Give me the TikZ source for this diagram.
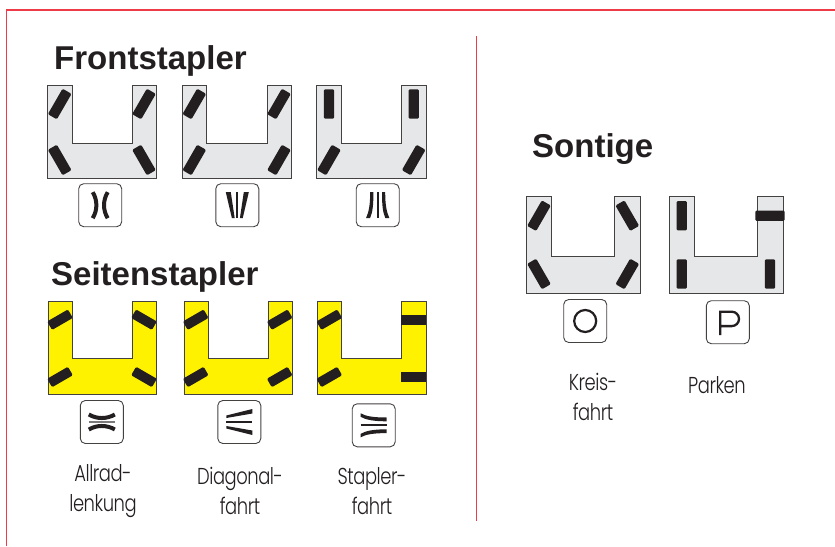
\documentclass[tikz,border=0pt]{standalone}
\usepackage{fontspec}
\setmainfont{Liberation Sans}
\newfontfamily\labfont[UprightFont={* Light},FakeStretch=0.78,LetterSpace=-2]{Poppins}
\definecolor{fr}{HTML}{EE3B4A}
\definecolor{gb}{HTML}{E6E7E8}
\definecolor{yb}{HTML}{FFF200}
\definecolor{ink}{HTML}{231F20}
\tikzset{
  body/.style={draw=ink!85,line width=1pt,line join=miter},
  wheelbar/.style={fill=ink,rounded corners=1.3pt},
  iconbox/.style={draw=ink!85,line width=.9pt,rounded corners=5pt,minimum width=43pt,minimum height=43pt,inner sep=0pt},
  title/.style={font=\fontsize{33}{36}\selectfont\bfseries,anchor=base west,inner sep=0pt,text=ink},
  lab/.style={font=\labfont\fontsize{23}{29.5}\selectfont,align=center,inner sep=0pt,text=ink},
  glyph/.style={draw=ink,line width=4pt,line cap=butt},
  thinline/.style={draw=ink,line width=2pt},
}
\newcommand{\truck}[8]{% x0 x1 xa xb y0 y1 yi colour
  \draw[body,fill=#8] (#1,#5)--(#3,#5)--(#3,#7)--(#4,#7)--(#4,#5)--(#2,#5)--(#2,#6)--(#1,#6)--cycle;}
\newcommand{\wheelp}[3]{\fill[wheelbar,shift={(#1,#2)},rotate=#3] (-14.7,-5.2) rectangle (14.7,5.2);}
\newcommand{\wheely}[3]{\fill[wheelbar,shift={(#1,#2)},rotate=#3] (-12,-4.9) rectangle (12,4.9);}
\begin{document}
\begin{tikzpicture}[x=1pt,y=-1pt]
\useasboundingbox (0,0) rectangle (835,546);
\fill[white] (0,0) rectangle (835,546);
\draw[fr,line width=1.2pt] (6.5,546)--(6.5,10)--(835,10);
\coordinate (da) at (476,36); \coordinate (db) at (476,521);
\draw[fr,line width=1pt] (da)--(db);
\node[title] (t1) at (54,69) {Frontstapler};
\node[title] (t2) at (51,285) {Seitenstapler};
\node[title] (t3) at (532,157) {Sontige};
% front
\truck{47.5}{156.5}{72}{132}{85.7}{178.7}{143}{gb}
\wheelp{59.7}{104}{60}\wheelp{144}{104}{60}\wheelp{59.7}{160}{-60}\wheelp{144}{160}{-60}
\truck{182.5}{291.7}{206.7}{267}{85.7}{178.7}{143}{gb}
\wheelp{194.3}{104}{60}\wheelp{279}{104}{60}\wheelp{194.3}{160}{60}\wheelp{279}{160}{60}
\truck{316.7}{426}{341}{401.3}{85.7}{178.7}{143}{gb}
\wheelp{329}{104}{90}\wheelp{413.7}{104}{90}\wheelp{329}{160}{60}\wheelp{413.7}{160}{60}
% side
\truck{48}{156.3}{72}{132}{301.7}{394}{358.3}{yb}
\wheely{60}{319.7}{30}\wheely{144}{319.7}{-30}\wheely{60}{377}{30}\wheely{144}{377}{-30}
\truck{184}{292.3}{208}{268}{301.7}{394}{358.3}{yb}
\wheely{195.7}{319.7}{30}\wheely{279.7}{319.7}{30}\wheely{195.7}{377}{30}\wheely{279.7}{377}{30}
\truck{317.7}{426.3}{341.7}{401.3}{301.7}{394}{358.3}{yb}
\wheely{329.3}{319.7}{30}\wheely{329.3}{377}{30}
\fill[ink] (401.3,314.7) rectangle (426.3,324.7);
\fill[ink] (401.3,371.7) rectangle (426.3,381.7);
% other
\truck{526.7}{640.3}{551.7}{614.7}{196.7}{293.3}{256.3}{gb}
\wheelp{539}{215.7}{60}\wheelp{627.3}{215.7}{-60}\wheelp{539}{274}{-60}\wheelp{627.3}{274}{60}
\truck{669.3}{783}{694.3}{757.3}{196.7}{293.3}{256.3}{gb}
\wheelp{681.7}{215.7}{90}\wheelp{681.7}{274}{90}\wheelp{770}{274}{90}\wheelp{770}{215.7}{0}
% icon boxes
\node[iconbox] (i1) at (100.2,205.2) {};
\node[iconbox] (i2) at (237.3,205.2) {};
\node[iconbox] (i3) at (377.7,205.2) {};
\node[iconbox] (i4) at (101.8,422) {};
\node[iconbox] (i5) at (239.3,422) {};
\node[iconbox] (i6) at (373.7,425.3) {};
\node[iconbox] (i7) at (585.2,321) {};
\node[iconbox] (i8) at (727.8,322.2) {};
% glyphs
\begin{scope}[shift={(i7.center)}]\draw[ink,line width=2.2pt] (0,0) circle (11);\end{scope}
\begin{scope}[shift={(i8.center)}]\draw[ink,line width=2.3pt] (-7.6,13)--(-7.6,-10.5)--(4,-10.5) arc (-90:90:7.2)--(-7.6,3.9);\end{scope}
\begin{scope}[shift={(i1.center)}]
\draw[glyph] (-7.5,-13) .. controls (-2.6,-5) and (-2.6,5) .. (-7.5,13);
\draw[glyph] (7.5,-13) .. controls (2.6,-5) and (2.6,5) .. (7.5,13);
\end{scope}
\begin{scope}[shift={(i2.center)}]
\fill[ink] (-11.5,-13)--(-6.5,-13)--(-2.6,13)--(-5.4,13)--cycle;
\fill[ink] (11.5,-13)--(6.5,-13)--(2.6,13)--(5.4,13)--cycle;
\draw[thinline] (0,-13)--(0,13);
\end{scope}
\begin{scope}[shift={(i3.center)}]
\fill[ink] (-7.5,-13)--(-4.3,-13) .. controls (-4.3,0) and (-5,7) .. (-7.7,13)--(-11.7,13) .. controls (-9,7) and (-7.5,0) .. (-7.5,-13)--cycle;
\fill[ink] (7.5,-13)--(4.3,-13) .. controls (4.3,0) and (5,7) .. (7.7,13)--(11.7,13) .. controls (9,7) and (7.5,0) .. (7.5,-13)--cycle;
\draw[thinline] (0,-13)--(0,13);
\end{scope}
\begin{scope}[shift={(i4.center)}]
\draw[glyph] (-13,-7.5) .. controls (-5,-2.8) and (5,-2.8) .. (13,-7.5);
\draw[glyph] (-13,7.5) .. controls (-5,2.8) and (5,2.8) .. (13,7.5);
\draw[thinline,draw=ink!60] (-13,0)--(13,0);
\end{scope}
\begin{scope}[shift={(i5.center)}]
\fill[ink] (-13,-6.5)--(13,-13)--(13,-8.5)--(-13,-4)--cycle;
\fill[ink] (-13,6.5)--(13,13)--(13,8.5)--(-13,4)--cycle;
\draw[thinline,line width=2.2pt] (-13,0)--(13,0);
\end{scope}
\begin{scope}[shift={(i6.center)}]
\fill[ink] (13,-7.8)--(13,-4) .. controls (0,-4) and (-8,-5.5) .. (-13,-8.5)--(-13,-12) .. controls (-8,-9) and (0,-7.8) .. (13,-7.8)--cycle;
\fill[ink] (13,7.8)--(13,4) .. controls (0,4) and (-8,5.5) .. (-13,8.5)--(-13,12) .. controls (-8,9) and (0,7.8) .. (13,7.8)--cycle;
\draw[thinline,line width=2.2pt] (-13,0)--(13,0);
\end{scope}
% labels
\node[lab] (l1) at (103,491) {Allrad-\\lenkung};
\node[lab] (l2) at (240,491) {Diagonal-\\fahrt};
\node[lab] (l3) at (372,491) {Stapler-\\fahrt};
\node[lab] (l4) at (593,397) {Kreis-\\fahrt};
\node[lab] (l5) at (717,385) {Parken};
\end{tikzpicture}
\end{document}
